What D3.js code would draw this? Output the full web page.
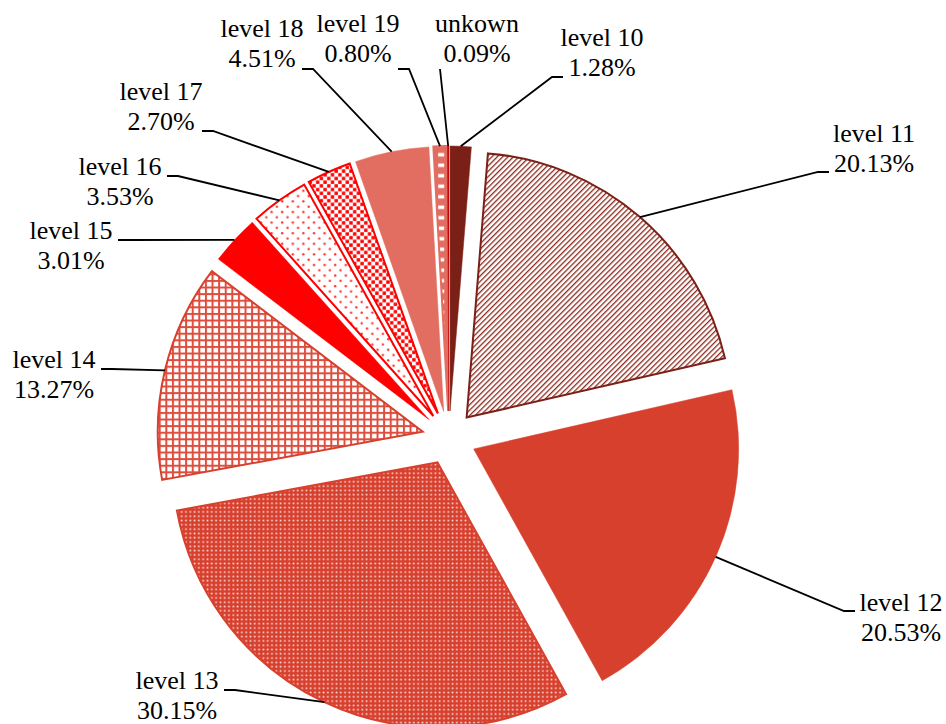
<!DOCTYPE html>
<html lang="en">

<head>
    <meta charset="UTF-8">
    <script src="https://d3js.org/d3.v7.min.js"></script>
    <title>Levels pie</title>
    <style>
        body { margin: 0; background: #fff; }
        .label { font-family: "Liberation Serif", "Times New Roman", "DejaVu Serif", serif; font-size: 26px; fill: #000; }
        .leader { fill: none; stroke: #000; stroke-width: 1.8; }
    </style>
</head>

<body>
    <div id="chart"></div>
    <script>
        // Data
        const levels = ["level 10", "level 11", "level 12", "level 13", "level 14", "level 15",
            "level 16", "level 17", "level 18", "level 19", "unkown"];
        const shares = [1.28, 20.13, 20.53, 30.15, 13.27, 3.01, 3.53, 2.70, 4.51, 0.80, 0.09];

        // Slice styles (fill can be a pattern id)
        const sliceFill = ["#7b2016", "url(#p11)", "#d8402e", "url(#p13)", "url(#p14)", "#ff0000",
            "url(#p16)", "url(#p17)", "#e26d61", "url(#p19)", "#c00000"];
        const sliceStroke = ["#7b2016", "#7b2016", "#d8402e", "#d8402e", "#d8402e", "#ff0000",
            "#ff0000", "#ff0000", "#e26d61", "#e26d61", "#c00000"];

        // Label layout: text centre, first baseline, where the leader leaves the label, which side it sits
        const labelLayout = [
            { x: 602, y: 46, lx: 563, ly: 77, side: "right" },
            { x: 874, y: 142, lx: 829, ly: 172, side: "right" },
            { x: 901, y: 611, lx: 855, ly: 611, side: "right" },
            { x: 177, y: 689, lx: 224, ly: 690, side: "left" },
            { x: 54, y: 368, lx: 101, ly: 369, side: "left" },
            { x: 71, y: 239, lx: 118, ly: 240, side: "left" },
            { x: 120, y: 175, lx: 167, ly: 176, side: "left" },
            { x: 161, y: 100, lx: 202, ly: 131, side: "left" },
            { x: 262, y: 37, lx: 302, ly: 69, side: "left" },
            { x: 358, y: 32, lx: 398, ly: 69, side: "left" },
            { x: 477, y: 32, lx: 440, ly: 69, side: "none" }
        ];

        // Dimensions
        const width = 946;
        const height = 724;
        const cx = 449, cy = 438;
        const radius = 265;
        const explode = 27;

        const svg = d3.select("#chart")
            .append("svg")
            .attr("width", width)
            .attr("height", height);

        // Fill patterns
        const defs = svg.append("defs");

        const p11 = defs.append("pattern")
            .attr("id", "p11")
            .attr("patternUnits", "userSpaceOnUse")
            .attr("width", 3.8).attr("height", 10)
            .attr("patternTransform", "rotate(45)");
        p11.append("rect").attr("width", 3.8).attr("height", 10).attr("fill", "#fff");
        p11.append("rect").attr("width", 1.3).attr("height", 10).attr("fill", "#8a2a1f");

        const p13 = defs.append("pattern")
            .attr("id", "p13")
            .attr("patternUnits", "userSpaceOnUse")
            .attr("width", 4.3).attr("height", 4.3);
        p13.append("rect").attr("width", 4.3).attr("height", 4.3).attr("fill", "#d8402e");
        p13.append("rect").attr("x", 1.4).attr("y", 1.4).attr("width", 1.6).attr("height", 1.6)
            .attr("fill", "#fff").attr("opacity", 0.85);

        const p14 = defs.append("pattern")
            .attr("id", "p14")
            .attr("patternUnits", "userSpaceOnUse")
            .attr("width", 6.6).attr("height", 6.6);
        p14.append("rect").attr("width", 6.6).attr("height", 6.6).attr("fill", "#fff");
        p14.append("rect").attr("width", 6.6).attr("height", 2).attr("fill", "#dc4e3e");
        p14.append("rect").attr("width", 2).attr("height", 6.6).attr("fill", "#dc4e3e");

        const p16 = defs.append("pattern")
            .attr("id", "p16")
            .attr("patternUnits", "userSpaceOnUse")
            .attr("width", 10.6).attr("height", 10.6);
        p16.append("rect").attr("width", 10.6).attr("height", 10.6).attr("fill", "#fff");
        p16.selectAll("circle")
            .data([[2.6, 2.6], [7.9, 7.9]])
            .join("circle")
            .attr("cx", d => d[0]).attr("cy", d => d[1]).attr("r", 1.2)
            .attr("fill", "#ff3030");

        const p17 = defs.append("pattern")
            .attr("id", "p17")
            .attr("patternUnits", "userSpaceOnUse")
            .attr("width", 7.4).attr("height", 7.4);
        p17.append("rect").attr("width", 7.4).attr("height", 7.4).attr("fill", "#fff");
        p17.selectAll("rect.sq")
            .data([[0.2, 0.2], [3.9, 3.9]])
            .join("rect")
            .attr("class", "sq")
            .attr("x", d => d[0]).attr("y", d => d[1])
            .attr("width", 3.4).attr("height", 3.4)
            .attr("fill", "#ff0000");

        const p19 = defs.append("pattern")
            .attr("id", "p19")
            .attr("patternUnits", "userSpaceOnUse")
            .attr("x", 434).attr("y", 148)
            .attr("width", 14).attr("height", 10.5);
        p19.append("rect").attr("width", 14).attr("height", 10.5).attr("fill", "#e26d61");
        p19.append("rect").attr("x", 4).attr("y", 3.5).attr("width", 6).attr("height", 3.5)
            .attr("fill", "#fff");

        // Pie layout, clockwise from twelve o'clock
        const pie = d3.pie()
            .sort(null)
            .value(d => d);
        const arcs = pie(shares);

        const arc = d3.arc()
            .innerRadius(0)
            .outerRadius(radius);

        const dirOf = d => {
            const m = (d.startAngle + d.endAngle) / 2;
            return [Math.sin(m), -Math.cos(m)];
        };

        const pieGroup = svg.append("g")
            .attr("transform", `translate(${cx},${cy})`);

        pieGroup.selectAll("path")
            .data(arcs)
            .join("path")
            .attr("transform", d => {
                const [dx, dy] = dirOf(d);
                return `translate(${dx * explode},${dy * explode})`;
            })
            .attr("d", arc)
            .attr("fill", (d, i) => sliceFill[i])
            .attr("stroke", (d, i) => sliceStroke[i])
            .attr("stroke-width", (d, i) => sliceFill[i].startsWith("url") ? 2 : 0.5)
            .attr("stroke-linejoin", "miter");

        // Leader lines
        const line = d3.line();
        svg.selectAll("path.leader")
            .data(arcs)
            .join("path")
            .attr("class", "leader")
            .attr("d", (d, i) => {
                const l = labelLayout[i];
                const [dx, dy] = dirOf(d);
                const anchor = [cx + dx * (radius + explode), cy + dy * (radius + explode)];
                const elbowX = l.side === "left" ? l.lx + 11 : l.side === "right" ? l.lx - 11 : l.lx;
                return line([[l.lx, l.ly], [elbowX, l.ly], anchor]);
            });

        // Labels
        const labelText = svg.selectAll("text.label")
            .data(arcs)
            .join("text")
            .attr("class", "label")
            .attr("text-anchor", "middle")
            .attr("x", (d, i) => labelLayout[i].x)
            .attr("y", (d, i) => labelLayout[i].y);

        labelText.append("tspan")
            .attr("x", (d, i) => labelLayout[i].x)
            .text((d, i) => levels[i]);
        labelText.append("tspan")
            .attr("x", (d, i) => labelLayout[i].x)
            .attr("dy", 30)
            .text(d => `${d.data.toFixed(2)}%`);
    </script>
</body>

</html>
